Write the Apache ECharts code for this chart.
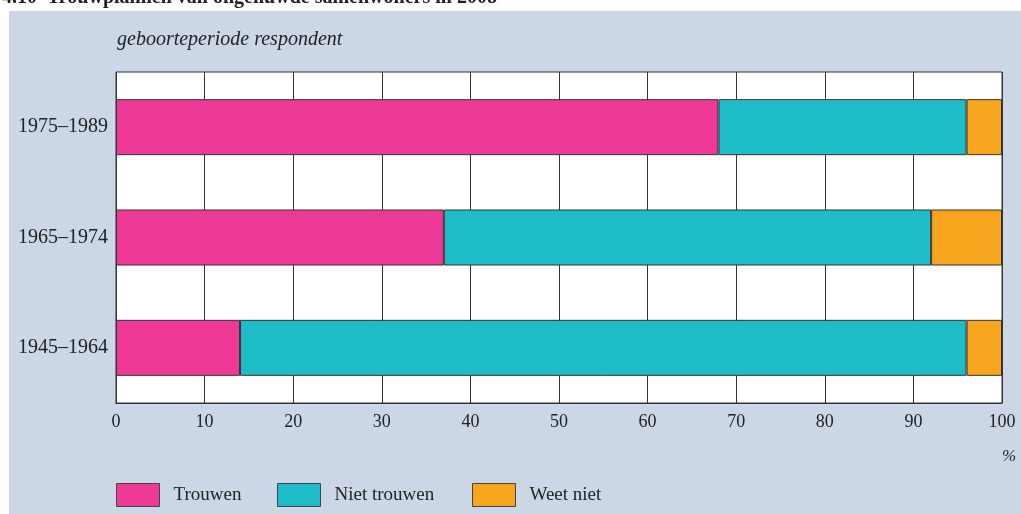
<!DOCTYPE html>
<html><head><meta charset="utf-8">
<script src="https://cdn.jsdelivr.net/npm/echarts@6/dist/echarts.min.js"></script>
<style>html,body{margin:0;padding:0;background:#fff}#c{width:1021px;height:514px}</style>
</head><body><div id="c"></div>
<script>
const categories = ['1945–1964', '1965–1974', '1975–1989'];
const trouwen = [14, 37, 68];
const nietTrouwen = [82, 55, 28];
const weetNiet = [4, 8, 4];
const xTicks = [0, 10, 20, 30, 40, 50, 60, 70, 80, 90, 100];
const seriesNames = ['Trouwen', 'Niet trouwen', 'Weet niet'];
const colors = ['#ee3a96', '#1ebcc7', '#f7a51c'];

const serif = '"Liberation Serif", "DejaVu Serif", serif';
const chart = echarts.init(document.getElementById('c'), null, {renderer: 'canvas'});
const mkSeries = (name, data, i) => ({
  name, type: 'bar', stack: 'a', data, barWidth: 56,
  itemStyle: {color: colors[i], borderColor: '#333', borderWidth: 1},
  emphasis: {disabled: true}
});
const legendPos = [116, 277, 472];
chart.setOption({
  animation: false,
  graphic: [
    {type: 'rect', shape: {x: 9, y: 11, width: 1012, height: 503}, style: {fill: '#cbd6e6'}, z: -10},
    {type: 'text', left: 2, top: -12, z: -20, style: {text: '4.10  Trouwplannen van ongehuwde samenwoners in 2008', font: 'bold 20px ' + serif, fill: '#222'}},
    {type: 'text', left: 117, top: 30, style: {text: 'geboorteperiode respondent', font: 'italic 20px ' + serif, fill: '#222'}},
    {type: 'text', left: 1002, top: 448, style: {text: '%', font: 'italic 17px ' + serif, fill: '#222'}}
  ],
  legend: seriesNames.map((n, i) => ({
    data: [n], left: legendPos[i], top: 483, itemWidth: 43, itemHeight: 23, padding: 0,
    icon: 'rect', selectedMode: false,
    itemStyle: {borderColor: '#444', borderWidth: 1},
    textStyle: {fontFamily: serif, fontSize: 19, color: '#222', padding: [0, 0, 0, 9]}
  })),
  grid: {left: 116, right: 19, top: 72, bottom: 111, show: true, backgroundColor: '#fff', borderColor: '#333', borderWidth: 1},
  xAxis: {
    type: 'value', min: 0, max: 100, interval: 10,
    axisLine: {show: true, lineStyle: {color: '#333'}}, axisTick: {show: false},
    splitLine: {show: true, lineStyle: {color: '#333', width: 1}},
    axisLabel: {fontFamily: serif, fontSize: 18, color: '#222', margin: 10,
      formatter: v => xTicks.includes(v) ? String(v) : ''}
  },
  yAxis: {
    type: 'category', data: categories,
    axisLine: {show: false}, axisTick: {show: false}, splitLine: {show: false},
    axisLabel: {fontFamily: serif, fontSize: 20, color: '#222', margin: 8}
  },
  series: [mkSeries(seriesNames[0], trouwen, 0), mkSeries(seriesNames[1], nietTrouwen, 1), mkSeries(seriesNames[2], weetNiet, 2)]
});
</script></body></html>
